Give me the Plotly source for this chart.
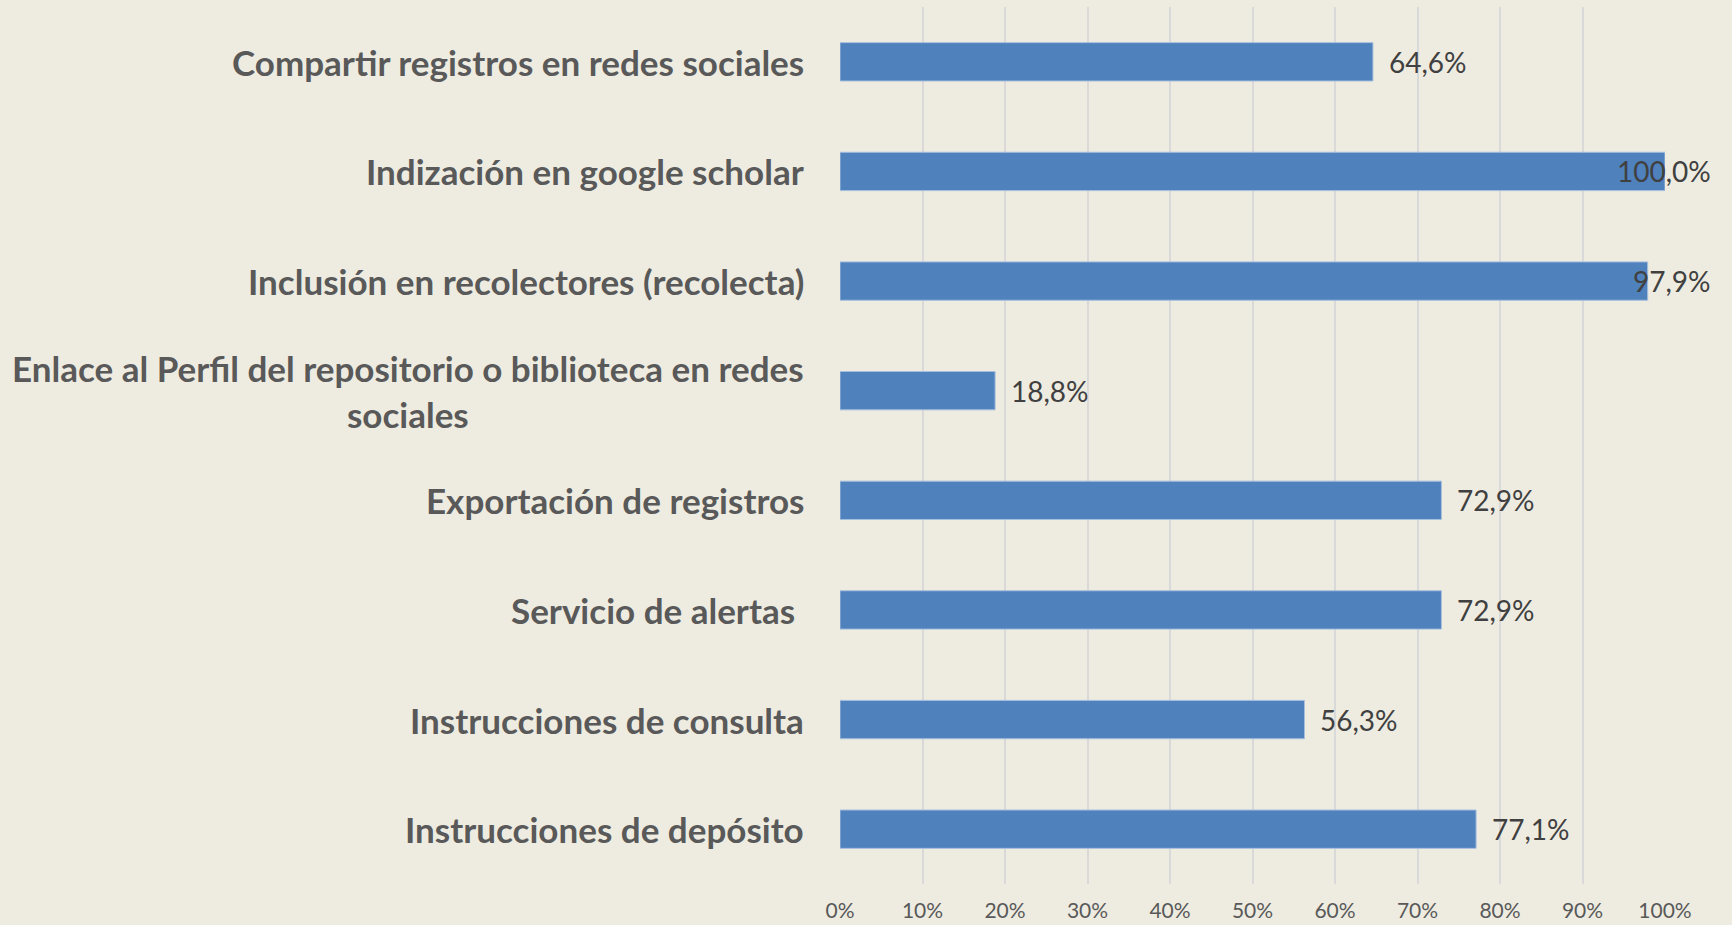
import plotly.graph_objects as go

# Categories top to bottom, as shown in the chart
categories = [
    "Compartir registros en redes sociales",
    "Indización en google scholar",
    "Inclusión en recolectores (recolecta)",
    "Enlace al Perfil del repositorio o biblioteca en redes<br>sociales",
    "Exportación de registros",
    "Servicio de alertas\u00a0",
    "Instrucciones de consulta",
    "Instrucciones de depósito",
]
values = [0.646, 1.000, 0.979, 0.188, 0.729, 0.729, 0.563, 0.771]
value_labels = ["64,6%", "100,0%", "97,9%", "18,8%", "72,9%", "72,9%", "56,3%", "77,1%"]

tick_vals = [i / 10 for i in range(11)]
tick_text = [f"{i * 10}%" for i in range(11)]

BG = "#EEECE1"
BAR = "#4F81BD"
LABEL_FONT = "Lato, 'Open Sans', sans-serif"

fig = go.Figure()

fig.add_trace(go.Bar(
    x=values,
    y=categories,
    orientation="h",
    marker=dict(color=BAR, line=dict(color="#A7BFDE", width=1)),
    hoverinfo="x+y",
))

# Category labels (centered when wrapped, like Excel)
for cat in categories:
    fig.add_annotation(
        x=0, xref="paper", y=cat, yref="y",
        text=f"<b>{cat}</b>", showarrow=False,
        xanchor="right", xshift=-34, align="center",
        font=dict(family=LABEL_FONT, size=35, color="#595959"),
    )

# Data labels: outside end, pushed back inside the chart when near the edge
for cat, v, lab in zip(categories, values, value_labels):
    if v > 0.9:
        fig.add_annotation(
            x=1.0, xref="x", y=cat, yref="y", text=lab, showarrow=False,
            xanchor="right", xshift=48,
            font=dict(family=LABEL_FONT, size=28, color="#404040"),
        )
    else:
        fig.add_annotation(
            x=v, xref="x", y=cat, yref="y", text=lab, showarrow=False,
            xanchor="left", xshift=14,
            font=dict(family=LABEL_FONT, size=28, color="#404040"),
        )

fig.update_layout(
    width=1732,
    height=925,
    paper_bgcolor=BG,
    plot_bgcolor=BG,
    bargap=0.65,
    showlegend=False,
    margin=dict(l=840, r=67, t=7, b=41),
    xaxis=dict(
        range=[0, 1],
        tickvals=tick_vals,
        ticktext=tick_text,
        showgrid=True,
        gridcolor="#D9D9D9",
        gridwidth=1.5,
        zeroline=False,
        showline=False,
        ticks="",
        tickfont=dict(family=LABEL_FONT, size=21, color="#595959"),
        ticklabelstandoff=12,
        automargin=False,
    ),
    yaxis=dict(
        categoryorder="array",
        categoryarray=categories,
        autorange="reversed",
        showticklabels=False,
        showgrid=False,
        zeroline=False,
        ticks="",
        automargin=False,
    ),
)

fig.write_html(
    "out.html",
    config={"displayModeBar": False},
    post_script="document.body.style.margin='0';",
)
